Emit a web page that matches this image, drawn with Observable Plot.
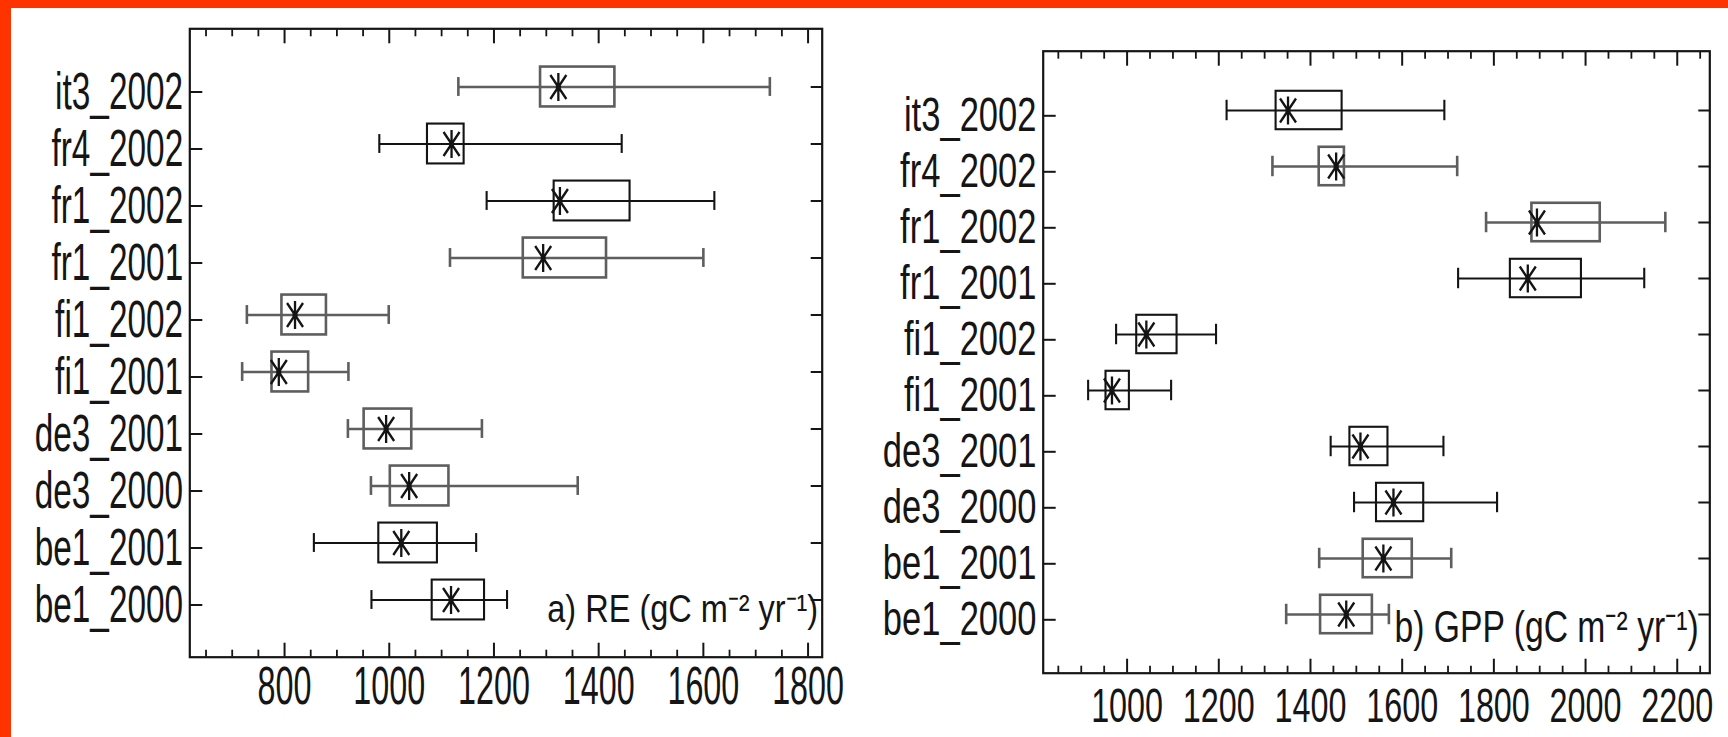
<!DOCTYPE html>
<html>
<head>
<meta charset="utf-8">
<script src="https://cdn.jsdelivr.net/npm/d3@7"></script>
<script src="https://cdn.jsdelivr.net/npm/@observablehq/plot@0.6"></script>
<style>
  html, body { margin: 0; padding: 0; background: #fff; overflow: hidden; }
  #page { position: relative; width: 1728px; height: 737px; background: #fff; overflow: hidden; }
  .band { position: absolute; background: #ff3300; }
  #left, #right { position: absolute; top: 0; }
  #left { left: 0; }
  #right { left: 860px; }
</style>
</head>
<body>
<div id="page">
  <div id="left"></div>
  <div id="right"></div>
  <div class="band" style="left:0;top:0;width:1728px;height:8px"></div>
  <div class="band" style="left:0;top:0;width:11px;height:737px"></div>
</div>
<script>
// ---------------- data ----------------
const sites = ["it3_2002", "fr4_2002", "fr1_2002", "fr1_2001", "fi1_2002",
               "fi1_2001", "de3_2001", "de3_2000", "be1_2001", "be1_2000"];

// a) RE (gC m-2 yr-1)
const reWhiskerLow  = [1132,  981, 1186, 1116,  728,  719,  921,  965,  856,  966];
const reBoxLow      = [1289, 1073, 1315, 1256,  795,  776,  952, 1002,  980, 1082];
const reCenter      = [1323, 1119, 1326, 1294,  820,  789,  994, 1038, 1023, 1118];
const reBoxHigh     = [1431, 1143, 1460, 1415,  880,  846, 1043, 1114, 1092, 1182];
const reWhiskerHigh = [1727, 1444, 1621, 1600,  999,  922, 1177, 1360, 1166, 1225];

// b) GPP (gC m-2 yr-1)
const gppWhiskerLow  = [1217, 1317, 1783, 1722,  976,  915, 1444, 1495, 1419, 1347];
const gppBoxLow      = [1325, 1419, 1883, 1836, 1021,  954, 1486, 1544, 1515, 1422];
const gppCenter      = [1351, 1456, 1894, 1874, 1042,  967, 1509, 1581, 1559, 1478];
const gppBoxHigh     = [1469, 1474, 2032, 1991, 1109, 1005, 1569, 1647, 1622, 1535];
const gppWhiskerHigh = [1692, 1720, 2174, 2128, 1194, 1096, 1690, 1807, 1707, 1571];

// axes
const reDomain = [619, 1827];
const reTicks = [800, 1000, 1200, 1400, 1600, 1800];
const reTickLabels = ["800", "1000", "1200", "1400", "1600", "1800"];
const reMinorTicks = [650, 700, 750, 850, 900, 950, 1050, 1100, 1150, 1250, 1300, 1350,
                      1450, 1500, 1550, 1650, 1700, 1750];

const gppDomain = [817, 2271];
const gppTicks = [1000, 1200, 1400, 1600, 1800, 2000, 2200];
const gppTickLabels = ["1000", "1200", "1400", "1600", "1800", "2000", "2200"];
const gppMinorTicks = [850, 900, 950, 1050, 1100, 1150, 1250, 1300, 1350, 1450, 1500, 1550,
                       1650, 1700, 1750, 1850, 1900, 1950, 2050, 2100, 2150, 2250];

// panel labels
const reLabel = "a) RE (gC m\u207B\u00B2 yr\u207B\u00B9)";
const gppLabel = "b) GPP (gC m\u207B\u00B2 yr\u207B\u00B9)";

// ---------------- style ----------------
const BLACK = "#141414";
const GRAY = "#5e5e5e";
const reGray = new Set(["it3_2002", "fr1_2001", "fi1_2002", "fi1_2001", "de3_2001", "de3_2000"]);
const gppGray = new Set(["fr4_2002", "fr1_2002", "be1_2001", "be1_2000"]);

const starSymbol = {
  draw(ctx) {
    ctx.moveTo(0, -14); ctx.lineTo(0, 14);
    ctx.moveTo(-8, -12); ctx.lineTo(8, 12);
    ctx.moveTo(-8, 12); ctx.lineTo(8, -12);
  }
};

// narrow the text horizontally about its own anchor point (condensed look)
function squeeze(t, f) {
  const tr = t.getAttribute("transform") || "";
  t.setAttribute("transform", `${tr} scale(${f.toFixed(4)},1)`);
}
function condense(svg, selector, factor) {
  svg.querySelectorAll(selector).forEach(t => squeeze(t, factor));
}
function fitWidth(svg, selector, width) {
  svg.querySelectorAll(selector).forEach(t => squeeze(t, width / t.getComputedTextLength()));
}

function panel(cfg) {
  const rows = sites.map((site, i) => {
    const g = cfg.gray.has(site);
    return {
      site,
      wl: cfg.wl[i], bl: cfg.bl[i], c: cfg.c[i], bh: cfg.bh[i], wh: cfg.wh[i],
      tone: g ? GRAY : BLACK,
      sw: g ? 2.6 : 2.1
    };
  });
  const plotH = 737 - cfg.mt - cfg.mb;
  const step = plotH / 11;
  const boxInset = (step - cfg.boxH) / 2;
  const capInset = (step - cfg.capH) / 2;

  return Plot.plot({
    width: cfg.width,
    height: 737,
    marginLeft: cfg.ml, marginRight: cfg.mr, marginTop: cfg.mt, marginBottom: cfg.mb,
    style: { background: "transparent", fontFamily: "'Liberation Sans', Arial, sans-serif", color: "#151515", overflow: "visible" },
    x: { domain: cfg.domain, axis: null },
    y: { type: "band", domain: sites, paddingInner: 0, paddingOuter: 0.5, axis: null },
    color: { type: "identity" },
    marks: [
      // whiskers
      Plot.ruleY(rows, { y: "site", x1: "wl", x2: "wh", stroke: "tone", strokeWidth: "sw" }),
      Plot.tickX(rows, { x: "wl", y: "site", stroke: "tone", strokeWidth: "sw", insetTop: capInset, insetBottom: capInset }),
      Plot.tickX(rows, { x: "wh", y: "site", stroke: "tone", strokeWidth: "sw", insetTop: capInset, insetBottom: capInset }),
      // boxes
      Plot.barX(rows, { y: "site", x1: "bl", x2: "bh", fill: "none", stroke: "tone", strokeWidth: "sw", insetTop: boxInset, insetBottom: boxInset }),
      // centre asterisks
      Plot.dot(rows, { x: "c", y: "site", symbol: starSymbol, stroke: BLACK, fill: "none", strokeWidth: 2.3 }),
      Plot.dot(rows, { x: "c", y: "site", r: 2.6, fill: BLACK, stroke: "none" }),
      // axes
      Plot.axisY({ anchor: "left", tickSize: -13, tickPadding: 13 + cfg.ylabGap, strokeWidth: 2, fontSize: cfg.yfs, dy: cfg.ydy, label: null }),
      Plot.axisY({ anchor: "right", tickSize: -12, strokeWidth: 2, fill: "none", label: null }),
      Plot.axisX({ anchor: "bottom", ticks: cfg.ticks, tickSize: -14, tickPadding: cfg.xpad, strokeWidth: 2,
                   tickFormat: d => cfg.tickLabels[cfg.ticks.indexOf(d)], fontSize: cfg.xfs, label: null }),
      Plot.axisX({ anchor: "bottom", ticks: cfg.minor, tickSize: -7, strokeWidth: 1.8, fill: "none", label: null }),
      Plot.axisX({ anchor: "top", ticks: cfg.ticks, tickSize: -14, strokeWidth: 2, fill: "none", label: null }),
      Plot.axisX({ anchor: "top", ticks: cfg.minor, tickSize: -7, strokeWidth: 1.8, fill: "none", label: null }),
      Plot.frame({ stroke: "#151515", strokeWidth: 2.2 }),
      // panel label
      Plot.text([cfg.label], { frameAnchor: "bottom-right", text: d => d, textAnchor: "end", lineAnchor: "bottom",
                               dx: cfg.labDx, dy: cfg.labDy, fontSize: cfg.labFs, fill: "#151515" })
    ]
  });
}

const reCfg = {
  width: 860, ml: 189.3, mr: 38.3, mt: 28.3, mb: 80.3,
  domain: reDomain, ticks: reTicks, tickLabels: reTickLabels, minor: reMinorTicks,
  wl: reWhiskerLow, bl: reBoxLow, c: reCenter, bh: reBoxHigh, wh: reWhiskerHigh,
  gray: reGray, boxH: 40, capH: 19,
  yfs: 52, ydy: 5, ylabGap: 6.6, yFactor: 0.642,
  xfs: 53, xpad: 23, xFactor: 0.61,
  label: reLabel, labFs: 39, labDx: -4, labDy: -35, labW: 271
};
const gppCfg = {
  width: 868, ml: 182.7, mr: 18.7, mt: 50.7, mb: 64.3,
  domain: gppDomain, ticks: gppTicks, tickLabels: gppTickLabels, minor: gppMinorTicks,
  wl: gppWhiskerLow, bl: gppBoxLow, c: gppCenter, bh: gppBoxHigh, wh: gppWhiskerHigh,
  gray: gppGray, boxH: 39, capH: 21,
  yfs: 48, ydy: 5.3, ylabGap: 6.7, yFactor: 0.72,
  xfs: 49, xpad: 28, xFactor: 0.66,
  label: gppLabel, labFs: 44, labDx: -11, labDy: -31, labW: 305
};

[[reCfg, "left"], [gppCfg, "right"]].forEach(([cfg, id]) => {
  const svg = panel(cfg);
  document.getElementById(id).appendChild(svg);
  condense(svg, 'g[aria-label="y-axis tick label"] text', cfg.yFactor);
  condense(svg, 'g[aria-label="x-axis tick label"] text', cfg.xFactor);
  fitWidth(svg, 'g[aria-label="text"] text', cfg.labW);
});
</script>
</body>
</html>
